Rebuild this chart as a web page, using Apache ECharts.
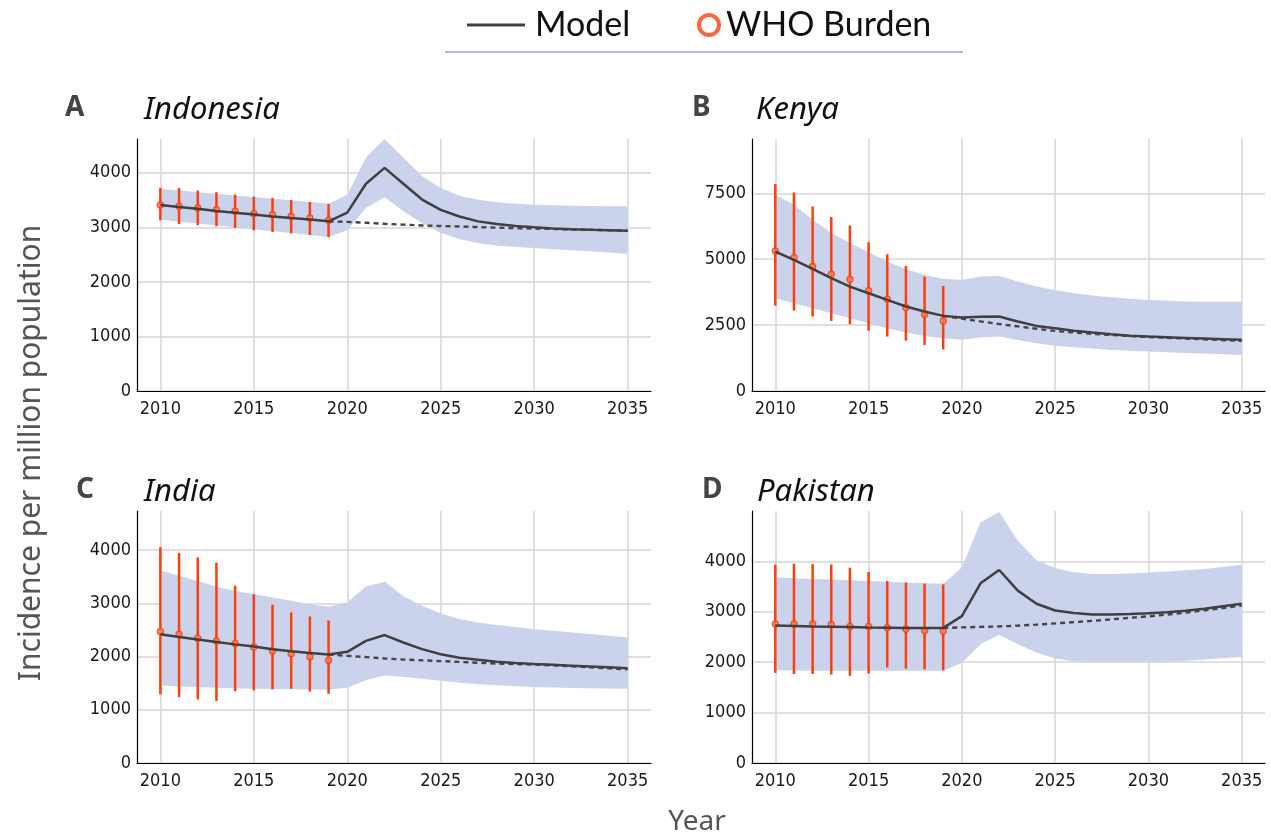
<!DOCTYPE html>
<html>
<head>
<meta charset="utf-8">
<title>Incidence per million population</title>
<script src="https://cdn.jsdelivr.net/npm/echarts@6/dist/echarts.min.js"></script>
<style>
  html, body { margin: 0; padding: 0; background: #fff; }
  #main { width: 1271px; height: 837px; }
</style>
</head>
<body>
<div id="main"></div>
<script>
'use strict';

// years of the model run and of the WHO estimates
var years = [2010, 2011, 2012, 2013, 2014, 2015, 2016, 2017, 2018, 2019, 2020, 2021, 2022,
  2023, 2024, 2025, 2026, 2027, 2028, 2029, 2030, 2031, 2032, 2033, 2034, 2035];
var whoYears = [2010, 2011, 2012, 2013, 2014, 2015, 2016, 2017, 2018, 2019];
var cfYears = [2019, 2020, 2021, 2022, 2023, 2024, 2025, 2026, 2027, 2028, 2029, 2030,
  2031, 2032, 2033, 2034, 2035];
var xTicks = [2010, 2015, 2020, 2025, 2030, 2035];

var panelLetters = ['A', 'B', 'C', 'D'];
var countries = ['Indonesia', 'Kenya', 'India', 'Pakistan'];

// A - Indonesia
var idnModel = [3410, 3375, 3340, 3300, 3270, 3235, 3200, 3170, 3145, 3110, 3270, 3800, 4090,
  3800, 3510, 3320, 3200, 3110, 3060, 3025, 3000, 2980, 2965, 2955, 2948, 2940];
var idnHigh = [3705, 3675, 3645, 3615, 3585, 3555, 3525, 3495, 3465, 3435, 3600, 4280, 4620,
  4280, 3940, 3720, 3580, 3505, 3460, 3435, 3415, 3405, 3398, 3392, 3388, 3385];
var idnLow = [3140, 3105, 3070, 3035, 3000, 2965, 2930, 2895, 2860, 2825, 2945, 3355, 3550,
  3295, 3080, 2895, 2785, 2710, 2665, 2640, 2620, 2600, 2580, 2560, 2540, 2515];
var idnNoCovid = [3110, 3100, 3085, 3065, 3050, 3035, 3025, 3015, 3005, 2995, 2985, 2978,
  2970, 2962, 2955, 2948, 2940];
var idnWho = [3410, 3385, 3355, 3325, 3295, 3250, 3230, 3200, 3170, 3130];
var idnWhoLow = [3130, 3060, 3040, 3020, 2990, 2945, 2915, 2890, 2860, 2820];
var idnWhoHigh = [3725, 3720, 3675, 3645, 3600, 3565, 3540, 3500, 3465, 3430];

// B - Kenya
var kenModel = [5290, 4975, 4635, 4280, 3960, 3710, 3455, 3205, 3015, 2850, 2785, 2820, 2825,
  2635, 2470, 2380, 2290, 2215, 2150, 2100, 2065, 2040, 2015, 1990, 1965, 1940];
var kenHigh = [7445, 7065, 6495, 5990, 5610, 5265, 4910, 4620, 4405, 4255, 4215, 4340, 4365,
  4150, 3960, 3835, 3710, 3620, 3555, 3500, 3455, 3420, 3395, 3390, 3390, 3390];
var kenLow = [3520, 3330, 3140, 2950, 2760, 2570, 2380, 2215, 2090, 2000, 1940, 2025, 2065,
  1935, 1810, 1720, 1660, 1610, 1560, 1525, 1495, 1470, 1445, 1420, 1395, 1370];
var kenNoCovid = [2850, 2745, 2640, 2540, 2450, 2360, 2280, 2220, 2170, 2125, 2085, 2050,
  2020, 1990, 1960, 1930, 1900];
var kenWho = [5315, 5060, 4720, 4430, 4240, 3800, 3480, 3165, 2910, 2660];
var kenWhoLow = [3240, 3050, 2825, 2660, 2530, 2290, 2065, 1910, 1745, 1580];
var kenWhoHigh = [7850, 7530, 7000, 6595, 6280, 5645, 5190, 4745, 4340, 3985];

// C - India
var indModel = [2420, 2370, 2320, 2275, 2230, 2190, 2140, 2100, 2070, 2040, 2090, 2295, 2405,
  2265, 2140, 2045, 1980, 1940, 1905, 1880, 1860, 1845, 1830, 1815, 1800, 1780];
var indHigh = [3625, 3520, 3420, 3320, 3235, 3175, 3110, 3050, 2985, 2935, 3015, 3320, 3405,
  3140, 2955, 2810, 2705, 2640, 2595, 2555, 2515, 2485, 2455, 2425, 2390, 2360];
var indLow = [1460, 1440, 1430, 1415, 1405, 1395, 1390, 1385, 1380, 1380, 1415, 1555, 1650,
  1615, 1585, 1545, 1510, 1480, 1460, 1445, 1430, 1420, 1410, 1405, 1400, 1395];
var indNoCovid = [2040, 2015, 1990, 1965, 1945, 1930, 1915, 1900, 1885, 1870, 1860, 1850,
  1835, 1820, 1800, 1780, 1760];
var indWho = [2470, 2420, 2345, 2295, 2245, 2180, 2105, 2055, 1995, 1930];
var indWhoLow = [1290, 1240, 1195, 1165, 1350, 1365, 1385, 1395, 1345, 1300];
var indWhoHigh = [4055, 3950, 3865, 3765, 3335, 3170, 2975, 2830, 2755, 2680];

// D - Pakistan
var pakModel = [2730, 2720, 2710, 2705, 2700, 2690, 2685, 2680, 2680, 2680, 2915, 3565, 3830,
  3420, 3160, 3025, 2975, 2945, 2945, 2955, 2970, 2990, 3020, 3060, 3110, 3160];
var pakHigh = [3685, 3665, 3650, 3640, 3625, 3610, 3595, 3580, 3565, 3555, 3880, 4770, 4980,
  4410, 4025, 3870, 3785, 3750, 3750, 3760, 3780, 3800, 3825, 3850, 3890, 3935];
var pakLow = [1840, 1835, 1830, 1830, 1830, 1830, 1830, 1830, 1830, 1830, 1985, 2355, 2545,
  2355, 2190, 2075, 2020, 2000, 2000, 2000, 2000, 2010, 2030, 2055, 2080, 2105];
var pakNoCovid = [2680, 2690, 2700, 2710, 2725, 2745, 2770, 2795, 2820, 2850, 2880, 2910,
  2945, 2985, 3030, 3075, 3125];
var pakWho = [2760, 2760, 2760, 2750, 2710, 2710, 2685, 2660, 2630, 2620];
var pakWhoLow = [1790, 1765, 1765, 1755, 1730, 1775, 1895, 1870, 1860, 1840];
var pakWhoHigh = [3935, 3955, 3945, 3940, 3875, 3790, 3610, 3580, 3560, 3545];

// y axis ticks and upper limits per panel
var yTicks = [
  [0, 1000, 2000, 3000, 4000],
  [0, 2500, 5000, 7500],
  [0, 1000, 2000, 3000, 4000],
  [0, 1000, 2000, 3000, 4000]
];
var yMax = [4620, 9560, 4737, 5000];

var panels = [
  { model: idnModel, high: idnHigh, low: idnLow, cf: idnNoCovid, who: idnWho, whoLow: idnWhoLow, whoHigh: idnWhoHigh },
  { model: kenModel, high: kenHigh, low: kenLow, cf: kenNoCovid, who: kenWho, whoLow: kenWhoLow, whoHigh: kenWhoHigh },
  { model: indModel, high: indHigh, low: indLow, cf: indNoCovid, who: indWho, whoLow: indWhoLow, whoHigh: indWhoHigh },
  { model: pakModel, high: pakHigh, low: pakLow, cf: pakNoCovid, who: pakWho, whoLow: pakWhoLow, whoHigh: pakWhoHigh }
];

var BAND = '#cbd2ec';
var LINE = '#404040';
var WHO = '#ff3d0a';
var GRIDLINE = '#d6d6d6';
var TICK_FONT = '"Liberation Sans Narrow", "DejaVu Sans Condensed", "Liberation Sans", sans-serif';
var TEXT_FONT = '"Noto Sans", Lato, sans-serif';

// pixel boxes of the four panels, and where their headings sit
var boxes = [
  { left: 137, top: 139, width: 514, height: 252 },
  { left: 752, top: 139, width: 513, height: 252 },
  { left: 137, top: 511, width: 514, height: 252 },
  { left: 752, top: 511, width: 513, height: 252 }
];
var letterPos = [[65, 92], [692, 92], [76, 474], [702, 474]];
var namePos = [[144, 93], [756, 93], [144, 475], [757, 475]];

function pairs(xs, ys) {
  var out = [];
  for (var i = 0; i < xs.length; i++) {
    out.push([xs[i], ys[i]]);
  }
  return out;
}

function plain(v) {
  return String(v);
}

var grids = [], xAxes = [], yAxes = [], series = [], titles = [];

for (var p = 0; p < 4; p++) {
  var d = panels[p];
  grids.push(boxes[p]);

  xAxes.push({
    gridIndex: p,
    type: 'value',
    min: 2008.75,
    max: 2036.25,
    axisLine: { show: true, onZero: false, lineStyle: { color: '#000', width: 1.2 } },
    axisTick: { show: false, customValues: xTicks },
    axisLabel: {
      customValues: xTicks, formatter: plain,
      fontFamily: TICK_FONT, fontSize: 18, color: '#1a1a1a', margin: 9
    },
    splitLine: { show: true, lineStyle: { color: GRIDLINE, width: 1.5 } }
  });

  yAxes.push({
    gridIndex: p,
    type: 'value',
    min: 0,
    max: yMax[p],
    axisLine: { show: true, lineStyle: { color: '#000', width: 1.2 } },
    axisTick: { show: false, customValues: yTicks[p] },
    axisLabel: {
      customValues: yTicks[p], formatter: plain,
      fontFamily: TICK_FONT, fontSize: 18, color: '#1a1a1a', margin: 6
    },
    splitLine: { show: true, lineStyle: { color: GRIDLINE, width: 1.5 } }
  });

  // uncertainty band: one polygon through the high values and back along the low ones
  series.push({
    name: 'band-' + p, type: 'custom', xAxisIndex: p, yAxisIndex: p, silent: true,
    data: years.map(function (yr, k) { return [yr, d.low[k], d.high[k]]; }),
    renderItem: function (params, api) {
      if (params.dataIndexInside !== 0) {
        return null;
      }
      var upper = [], lower = [];
      for (var k = 0; k < params.dataInsideLength; k++) {
        upper.push(api.coord([api.value(0, k), api.value(2, k)]));
        lower.unshift(api.coord([api.value(0, k), api.value(1, k)]));
      }
      return {
        type: 'polygon',
        shape: { points: upper.concat(lower) },
        style: { fill: BAND }
      };
    }
  });

  // no-covid projection
  series.push({
    name: 'No disruption', type: 'line', xAxisIndex: p, yAxisIndex: p,
    data: pairs(cfYears, d.cf), symbol: 'none', silent: true,
    lineStyle: { color: '#454545', width: 2.4, type: [5, 4] }
  });

  // WHO error bars
  series.push({
    name: 'WHO range', type: 'custom', xAxisIndex: p, yAxisIndex: p, silent: true,
    data: whoYears.map(function (yr, k) { return [yr, d.whoLow[k], d.whoHigh[k]]; }),
    renderItem: function (params, api) {
      var lo = api.coord([api.value(0), api.value(1)]);
      var hi = api.coord([api.value(0), api.value(2)]);
      return {
        type: 'line',
        shape: { x1: lo[0], y1: lo[1], x2: hi[0], y2: hi[1] },
        style: { stroke: WHO, lineWidth: 2.5 }
      };
    }
  });

  series.push({
    name: 'Model', type: 'line', xAxisIndex: p, yAxisIndex: p,
    data: pairs(years, d.model), symbol: 'none',
    lineStyle: { color: LINE, width: 2.5 }, itemStyle: { color: LINE }
  });

  series.push({
    name: 'WHO Burden', type: 'scatter', xAxisIndex: p, yAxisIndex: p,
    data: pairs(whoYears, d.who), symbol: 'circle', symbolSize: 6,
    itemStyle: { color: '#ff8a66', borderColor: WHO, borderWidth: 1.5 }
  });

  // panel letter + country name
  titles.push({
    text: panelLetters[p],
    left: letterPos[p][0], top: letterPos[p][1], padding: 0,
    textStyle: { fontFamily: TEXT_FONT, fontSize: 28, fontWeight: 'bold', color: '#444', lineHeight: 32 }
  });
  titles.push({
    text: countries[p],
    left: namePos[p][0], top: namePos[p][1], padding: 0,
    textStyle: { fontFamily: TEXT_FONT, fontSize: 31, fontStyle: 'italic', fontWeight: 'normal', color: '#111', lineHeight: 34 }
  });
}

var myChart = echarts.init(document.getElementById('main'), null, { renderer: 'canvas' });

var option = {
  backgroundColor: '#fff',
  animation: false,
  title: titles,
  legend: [
    {
      data: [{ name: 'Model', icon: 'path://M0,0L58,0L58,3L0,3Z' }],
      left: 467, top: 8, padding: 0,
      itemWidth: 58, itemHeight: 3,
      itemStyle: { color: LINE },
      textStyle: { fontFamily: 'Lato, sans-serif', fontSize: 34, color: '#111', padding: [0, 0, 0, 5] }
    },
    {
      data: [{ name: 'WHO Burden', icon: 'circle' }],
      left: 697, top: 8, padding: 0,
      itemWidth: 20, itemHeight: 20,
      itemStyle: { color: '#fff', borderColor: WHO, borderWidth: 4 },
      textStyle: { fontFamily: 'Lato, sans-serif', fontSize: 34, color: '#111', padding: [0, 0, 0, 2] }
    }
  ],
  graphic: [
    {
      type: 'line', silent: true,
      shape: { x1: 445, y1: 52, x2: 963, y2: 52 },
      style: { stroke: '#9c99e3', lineWidth: 1.5 }
    },
    {
      type: 'text', silent: true, x: 31, y: 453, rotation: Math.PI / 2,
      style: {
        text: 'Incidence per million population', textAlign: 'center', textVerticalAlign: 'middle',
        font: '30px "Noto Sans", Lato, sans-serif', fill: '#555'
      }
    },
    {
      type: 'text', silent: true, x: 697, y: 822,
      style: {
        text: 'Year', textAlign: 'center', textVerticalAlign: 'middle',
        font: '28px "Noto Sans", Lato, sans-serif', fill: '#555'
      }
    }
  ],
  grid: grids,
  xAxis: xAxes,
  yAxis: yAxes,
  series: series
};

myChart.setOption(option);
window.onresize = myChart.resize;
</script>
</body>
</html>
